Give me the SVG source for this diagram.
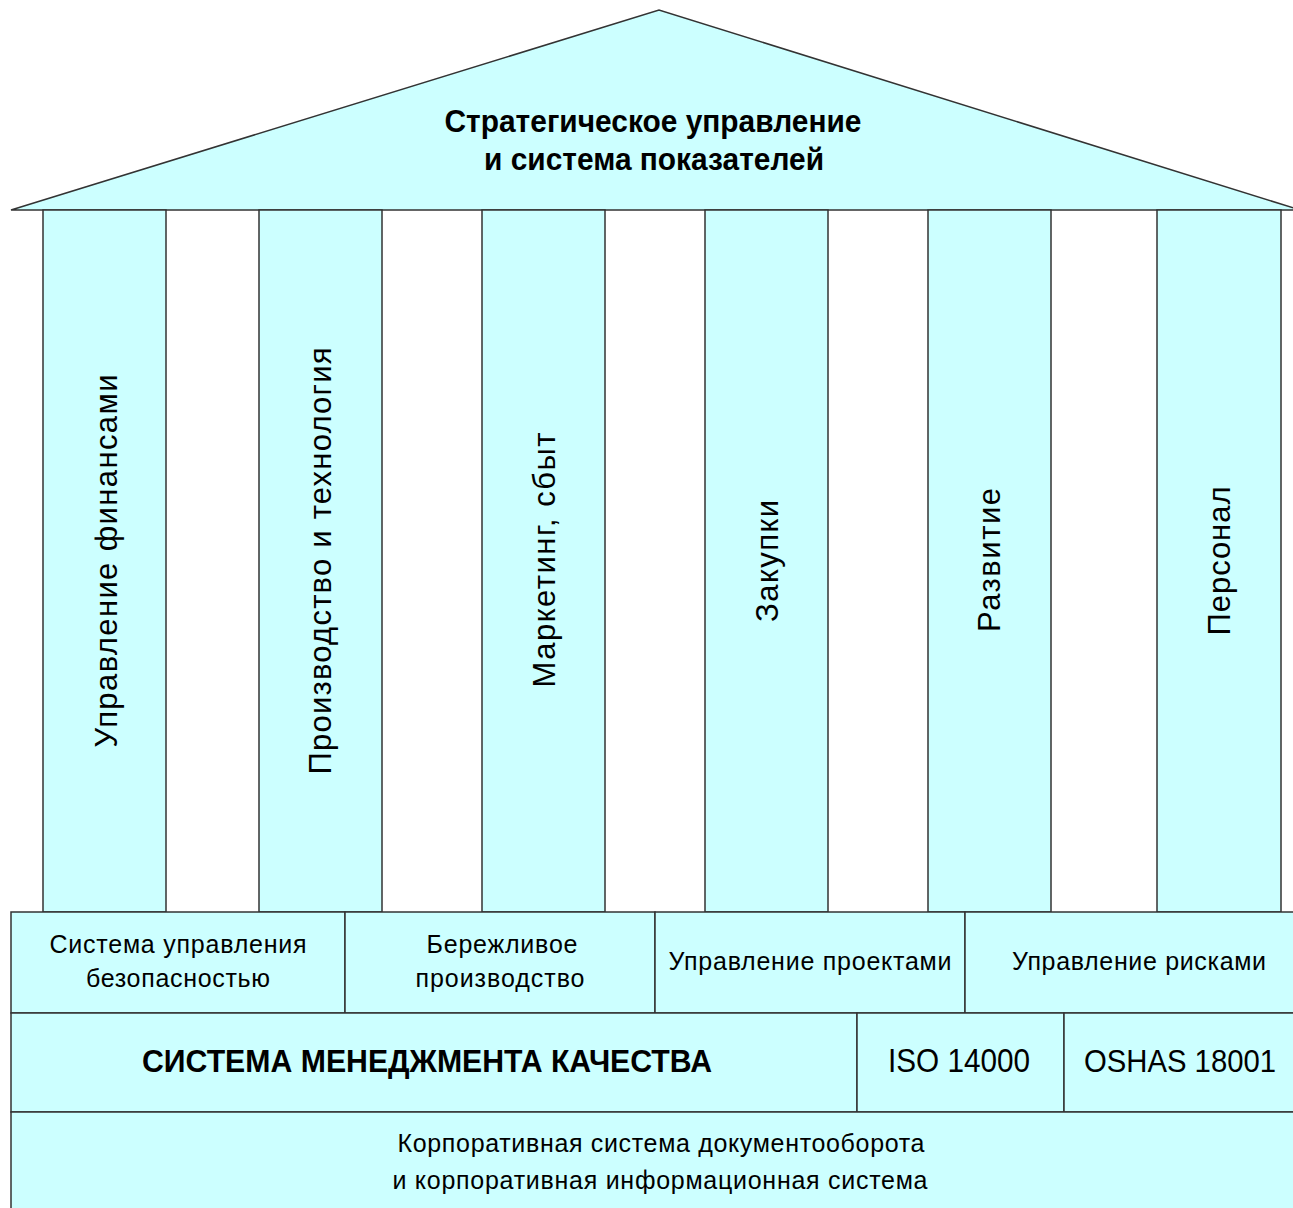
<svg xmlns="http://www.w3.org/2000/svg" width="1293" height="1208" viewBox="0 0 1293 1208">
<style>
.f{fill:#ccffff;stroke:#333;stroke-width:1.5}
.t{font-family:"Liberation Sans",Arial,sans-serif;fill:#000}
.b{font-weight:bold}
.col{font-size:31px}
.r1{font-size:25px}
</style>
<rect x="0" y="0" width="1293" height="1208" fill="#fff"/>
<g id="roof">
<polygon class="f" points="11,210 659,10 1300,210"/>
<text class="t b" x="653" y="132" font-size="31" text-anchor="middle" textLength="417" lengthAdjust="spacingAndGlyphs">Стратегическое управление</text>
<text class="t b" x="654" y="170" font-size="31" text-anchor="middle" textLength="340" lengthAdjust="spacingAndGlyphs">и система показателей</text>
</g>
<g id="col1"><rect class="f" x="43" y="210" width="123" height="702"/>
<text class="t col" transform="translate(117,561) rotate(-90)" text-anchor="middle" textLength="373">Управление финансами</text></g>
<g id="col2"><rect class="f" x="259" y="210" width="123" height="702"/>
<text class="t col" transform="translate(331,561) rotate(-90)" text-anchor="middle" textLength="427">Производство и технология</text></g>
<g id="col3"><rect class="f" x="482" y="210" width="123" height="702"/>
<text class="t col" transform="translate(555,560) rotate(-90)" text-anchor="middle" textLength="255">Маркетинг, сбыт</text></g>
<g id="col4"><rect class="f" x="705" y="210" width="123" height="702"/>
<text class="t col" transform="translate(778,561) rotate(-90)" text-anchor="middle" textLength="122">Закупки</text></g>
<g id="col5"><rect class="f" x="928" y="210" width="123" height="702"/>
<text class="t col" transform="translate(1000,560) rotate(-90)" text-anchor="middle" textLength="144">Развитие</text></g>
<g id="col6"><rect class="f" x="1157" y="210" width="124" height="702"/>
<text class="t col" transform="translate(1230,561) rotate(-90)" text-anchor="middle" textLength="149">Персонал</text></g>
<g id="safety"><rect class="f" x="11" y="912" width="334" height="101"/>
<text class="t r1" x="178" y="953" text-anchor="middle" textLength="257">Система управления</text>
<text class="t r1" x="178" y="987" text-anchor="middle" textLength="184">безопасностью</text></g>
<g id="lean"><rect class="f" x="345" y="912" width="310" height="101"/>
<text class="t r1" x="502" y="953" text-anchor="middle" textLength="151">Бережливое</text>
<text class="t r1" x="500" y="987" text-anchor="middle" textLength="169">производство</text></g>
<g id="projects"><rect class="f" x="655" y="912" width="310" height="101"/>
<text class="t r1" x="810" y="970" text-anchor="middle" textLength="283">Управление проектами</text></g>
<g id="risks"><rect class="f" x="965" y="912" width="329" height="101"/>
<text class="t r1" x="1139" y="970" text-anchor="middle" textLength="254">Управление рисками</text></g>
<g id="qms"><rect class="f" x="11" y="1013" width="846" height="99"/>
<text class="t b" x="427" y="1072" font-size="32" text-anchor="middle" textLength="570" lengthAdjust="spacingAndGlyphs">СИСТЕМА МЕНЕДЖМЕНТА КАЧЕСТВА</text></g>
<g id="iso"><rect class="f" x="857" y="1013" width="207" height="99"/>
<text class="t" x="959" y="1072" font-size="33" text-anchor="middle" textLength="142" lengthAdjust="spacingAndGlyphs">ISO 14000</text></g>
<g id="oshas"><rect class="f" x="1064" y="1013" width="230" height="99"/>
<text class="t" x="1180" y="1072" font-size="32" text-anchor="middle" textLength="192" lengthAdjust="spacingAndGlyphs">OSHAS 18001</text></g>
<g id="docs"><rect class="f" x="11" y="1112" width="1283" height="110"/>
<text class="t" x="661" y="1152" font-size="25" text-anchor="middle" textLength="527">Корпоративная система документооборота</text>
<text class="t" x="660" y="1189" font-size="25" text-anchor="middle" textLength="535">и корпоративная информационная система</text></g>
<g id="connectors"></g>
</svg>
